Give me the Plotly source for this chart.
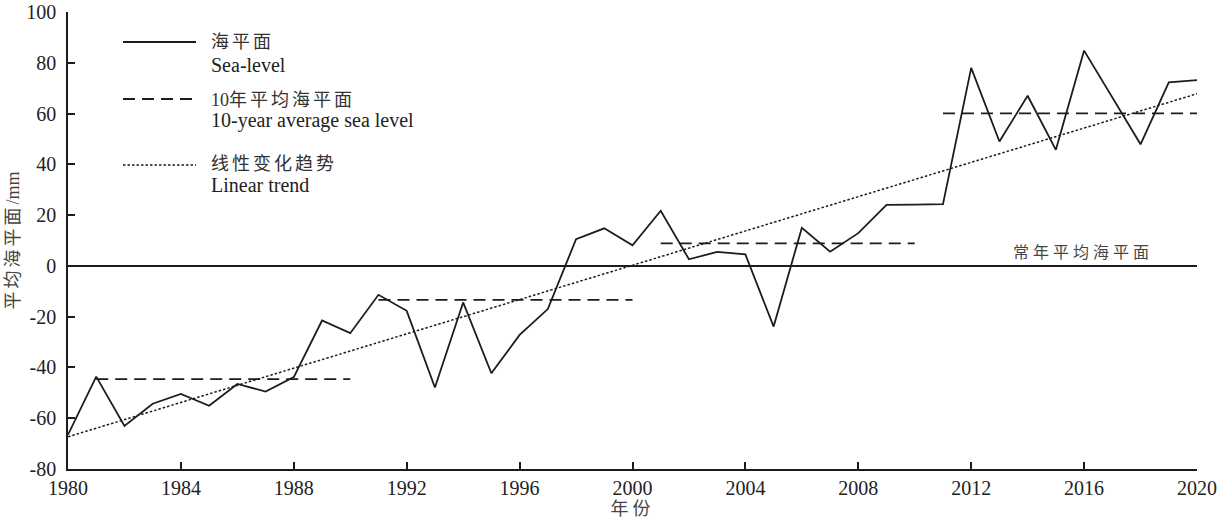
import plotly.graph_objects as go

# Annual mean sea level anomaly (mm), 1980-2020
years = list(range(1980, 2021))
sea_level = [-66.5, -43.6, -63.0, -54.3, -50.4, -55.1, -46.5, -49.5, -43.8, -21.5,
             -26.5, -11.4, -17.7, -47.9, -14.4, -42.3, -27.2, -17.0, 10.5, 14.8,
             8.1, 21.7, 2.6, 5.5, 4.5, -23.9, 15.0, 5.6, 12.9, 24.0,
             24.1, 24.3, 78.0, 49.0, 67.0, 45.7, 84.8, 66.4, 47.9, 72.3, 73.2]

# Decade means
decade_start = [1981, 1991, 2001, 2011]
decade_end = [1990, 2000, 2010, 2020]
decade_mean = [-44.6, -13.4, 8.9, 60.1]

# Linear trend end points
trend_years = [1980, 2020]
trend_values = [-67.3, 67.8]

x_ticks = list(range(1980, 2021, 4))
y_ticks = [-80, -60, -40, -20, 0, 20, 40, 60, 80, 100]
y_tick_text = ["-80", "-60", "-40", "-20", "0", "20", "40", "60", "80", "100"]

INK = "#1c1c1c"
SERIF = "Liberation Serif, Noto Sans CJK SC, serif"


def spaced(text, gap):
    return f'<span style="letter-spacing:{gap}px">{text}</span>'


dec_x, dec_y = [], []
for s, e, m in zip(decade_start, decade_end, decade_mean):
    dec_x += [s, e, None]
    dec_y += [m, m, None]

fig = go.Figure()
fig.add_trace(go.Scatter(x=years, y=sea_level, mode="lines",
                         line=dict(color=INK, width=1.8), name="海平面"))
fig.add_trace(go.Scatter(x=dec_x, y=dec_y, mode="lines",
                         line=dict(color=INK, width=1.8, dash="12px,7px"),
                         name="10年平均海平面"))
fig.add_trace(go.Scatter(x=trend_years, y=trend_values, mode="lines",
                         line=dict(color=INK, width=1.5, dash="2.5px,2px"),
                         name="线性变化趋势"))

# Hand-drawn legend in the upper-left corner
W, H, L, T = 1226, 519, 68, 12
PW, PH = W - L - 29, H - T - 50


def px(xp):
    return (xp - L) / PW


def py(yp):
    return (T + PH - yp) / PH


legend_rows = [
    (42, "solid", 1.8, spaced("海平面", 3), "Sea-level", 42, 65),
    (99, "dash", 1.8, "10" + spaced("年平均海平面", 3), "10-year average sea level", 100, 121),
    (165, "dot", 1.5, spaced("线性变化趋势", 3), "Linear trend", 164, 185),
]
dash_map = {"solid": "solid", "dash": "12px,7px", "dot": "2.5px,2px"}
for ly, style, lw, zh, en, zy, ey in legend_rows:
    fig.add_shape(type="line", xref="paper", yref="paper",
                  x0=px(123), x1=px(196), y0=py(ly), y1=py(ly),
                  line=dict(color=INK, width=lw, dash=dash_map[style]))
    fig.add_annotation(xref="paper", yref="paper", x=px(209), y=py(zy),
                       xanchor="left", yanchor="middle", showarrow=False,
                       text=zh, font=dict(family=SERIF, size=18, color="#333"))
    fig.add_annotation(xref="paper", yref="paper", x=px(209), y=py(ey),
                       xanchor="left", yanchor="middle", showarrow=False,
                       text=en, font=dict(family=SERIF, size=20, color="#222"))

fig.add_annotation(x=2018.5, y=0, xanchor="right", yanchor="bottom", yshift=3,
                   showarrow=False, text=spaced("常年平均海平面", 4),
                   font=dict(family=SERIF, size=16, color="#444"))

fig.update_layout(
    width=W, height=H,
    margin=dict(l=L, r=29, t=T, b=50, autoexpand=False),
    paper_bgcolor="white", plot_bgcolor="white",
    showlegend=False,
    font=dict(family=SERIF, size=20, color="#222"),
    xaxis=dict(range=[1980, 2020], tickvals=x_ticks, showgrid=False,
               zeroline=False, showline=True, linecolor=INK, linewidth=1.5,
               ticks="inside", ticklen=7, tickwidth=1.5, tickcolor=INK,
               automargin=False,
               tickfont=dict(family=SERIF, size=20, color="#222"),
               title=dict(text=spaced("年份", 4),
                          font=dict(family=SERIF, size=18, color="#444"),
                          standoff=2)),
    yaxis=dict(range=[-80, 100], tickvals=y_ticks, ticktext=y_tick_text,
               showgrid=False, zeroline=True, zerolinecolor=INK,
               zerolinewidth=1.5, showline=True, linecolor=INK, linewidth=1.5,
               ticks="inside", ticklen=7, tickwidth=1.5, tickcolor=INK,
               ticklabelstandoff=6, automargin=False,
               tickfont=dict(family=SERIF, size=20, color="#222"),
               title=dict(text=spaced("平均海平面", 3) + "/mm",
                          font=dict(family=SERIF, size=18, color="#444"),
                          standoff=2)),
)

fig.write_html("out.html")
